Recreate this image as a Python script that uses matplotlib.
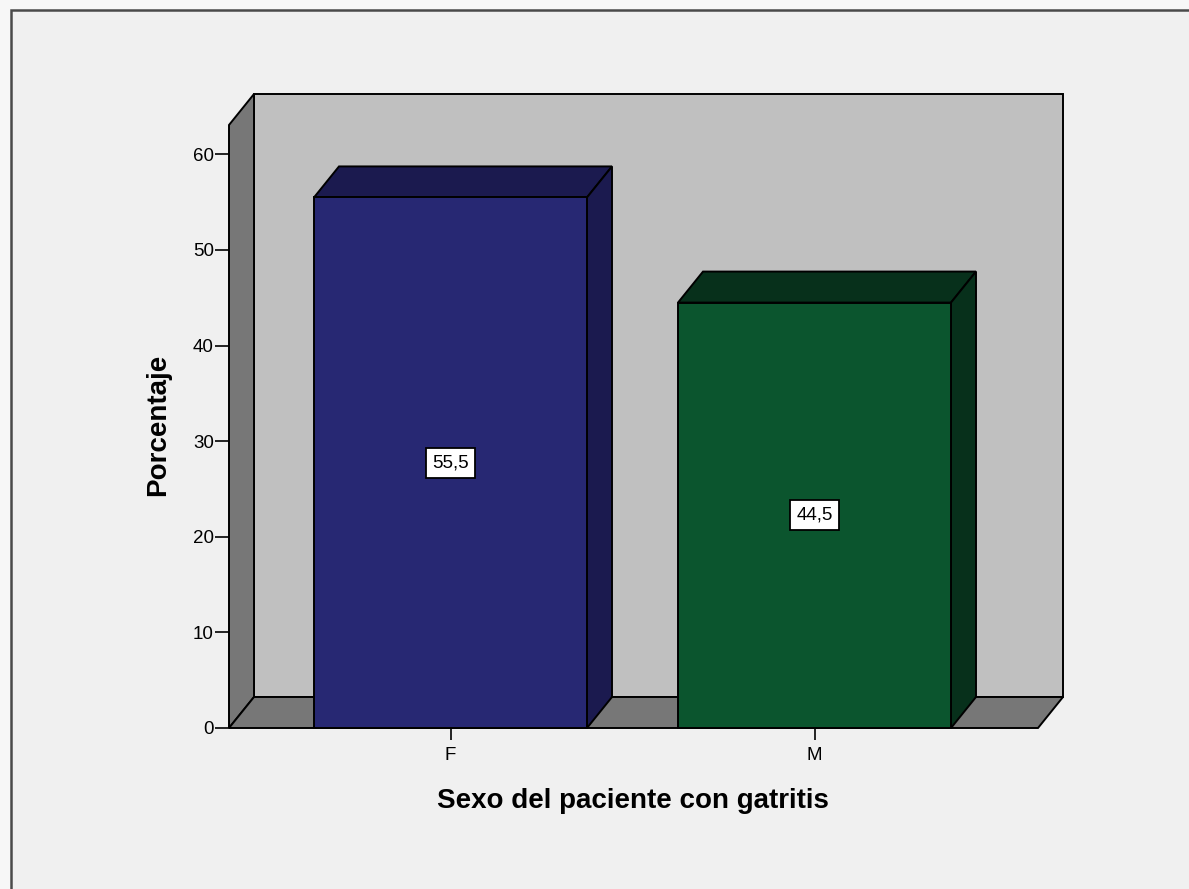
import matplotlib
matplotlib.use("Agg")
import matplotlib.pyplot as plt
from matplotlib.patches import Polygon, Rectangle

# Data
categories = ["F", "M"]
percentages = [55.5, 44.5]
value_labels = ["55,5", "44,5"]
y_ticks = [0, 10, 20, 30, 40, 50, 60]

# Styling
front_colors = ["#272873", "#0b552e"]
shade_colors = ["#1b1a4f", "#07301b"]
wall_color = "#c0c0c0"
side_color = "#777777"
bg_color = "#f0f0f0"
font = "Liberation Sans"

W, H = 1189, 889
fig = plt.figure(figsize=(W / 100, H / 100), dpi=100)
fig.patch.set_facecolor("#f7f7f7")

# outer chart frame
fig.patches.append(Rectangle((10.5 / W, -0.1), 2, (H - 10.5) / H + 0.1,
                             transform=fig.transFigure, facecolor=bg_color,
                             edgecolor="#4a4a4a", linewidth=1.8, zorder=-5))

# plot region (front floor edge at left, back wall at top/right)
px_left, px_right, px_bottom, px_top = 229, 1063, 728, 94
ax = fig.add_axes([px_left / W, (H - px_bottom) / H,
                   (px_right - px_left) / W, (px_bottom - px_top) / H])
ax.set_zorder(2)
ax.set_facecolor("none")
for s in ax.spines.values():
    s.set_visible(False)

unit_px = 364.0          # pixels per category step
val_px = 9.56            # pixels per percent
x0 = -(450.5 - px_left) / unit_px
x1 = x0 + (1038 - px_left) / unit_px
ax.set_xlim(x0, x0 + (px_right - px_left) / unit_px)
ax.set_ylim(0, (px_bottom - px_top) / val_px)

DX = 25 / unit_px        # depth offset in x
DY = 31 / val_px         # depth offset in y
wall_h = ax.get_ylim()[1] - DY
bar_w = 273 / unit_px

edge = dict(edgecolor="black", linewidth=1.4, joinstyle="miter")

# back wall, left wall, floor
ax.add_patch(Polygon([(x0 + DX, DY), (x1 + DX, DY), (x1 + DX, wall_h + DY),
                      (x0 + DX, wall_h + DY)], closed=True,
                     facecolor=wall_color, clip_on=False, zorder=1, **edge))
ax.add_patch(Polygon([(x0, 0), (x0 + DX, DY), (x0 + DX, wall_h + DY), (x0, wall_h)],
                     closed=True, facecolor=side_color, clip_on=False, zorder=1, **edge))
ax.add_patch(Polygon([(x0, 0), (x1, 0), (x1 + DX, DY), (x0 + DX, DY)],
                     closed=True, facecolor=side_color, clip_on=False, zorder=1, **edge))

# 3D bars
for i, (v, fc, sc, lab) in enumerate(zip(percentages, front_colors, shade_colors, value_labels)):
    l, r = i - bar_w / 2, i + bar_w / 2
    ax.add_patch(Polygon([(l, v), (r, v), (r + DX, v + DY), (l + DX, v + DY)],
                         closed=True, facecolor=sc, clip_on=False, zorder=2, **edge))
    ax.add_patch(Polygon([(r, 0), (r + DX, DY), (r + DX, v + DY), (r, v)],
                         closed=True, facecolor=sc, clip_on=False, zorder=2, **edge))
    ax.add_patch(Rectangle((l, 0), bar_w, v, facecolor=fc, clip_on=False, zorder=3, **edge))
    ax.text(i, v / 2, lab, ha="center", va="center", fontsize=13.5, family=font,
            color="black", zorder=5,
            bbox=dict(boxstyle="square,pad=0.35", facecolor="white",
                      edgecolor="black", linewidth=1.3))

ax.set_xticks(range(len(categories)))
ax.set_xticklabels(categories)
ax.set_yticks(y_ticks)
ax.tick_params(axis="y", length=10, width=1.2, pad=1, labelsize=13.5, colors="black")
ax.tick_params(axis="x", length=8.6, width=1.2, pad=5, labelsize=13.5, colors="black")
for t in ax.get_xticklabels() + ax.get_yticklabels():
    t.set_fontfamily(font)

ax.set_xlabel("Sexo del paciente con gatritis", fontsize=20, fontweight="bold",
              family=font, va="center")
ax.xaxis.set_label_coords((632.5 - px_left) / (px_right - px_left),
                          -(801 - px_bottom) / (px_bottom - px_top))
ax.set_ylabel("Porcentaje", fontsize=20, fontweight="bold", family=font, va="center")
ax.yaxis.set_label_coords(-(px_left - 158) / (px_right - px_left),
                          (px_bottom - 425) / (px_bottom - px_top))

fig.savefig("out.png", dpi=100, facecolor=fig.get_facecolor())
